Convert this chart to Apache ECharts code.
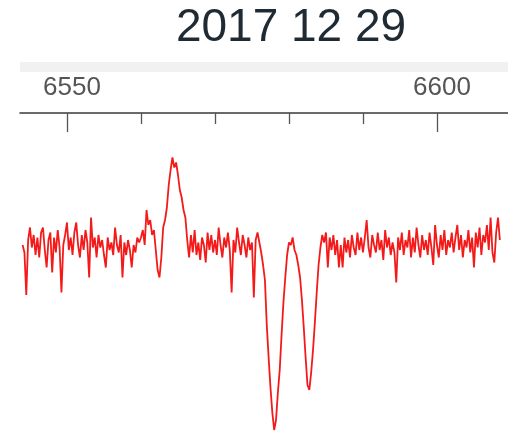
<!DOCTYPE html>
<html>
<head>
<meta charset="utf-8">
<script src="https://cdn.jsdelivr.net/npm/echarts@6/dist/echarts.min.js"></script>
<style>html,body{margin:0;padding:0;background:#fff;}#c{width:508px;height:437px;}</style>
</head>
<body>
<div id="c"></div>
<script>
const titleText = '2017 12 29';
const majorTicks = [6550, 6600];
const minorTicks = [6560, 6570, 6580, 6590];
const wavelength = [
6544.00,6544.25,6544.50,6544.75,6545.00,6545.25,6545.50,6545.75,
6546.00,6546.25,6546.50,6546.75,6547.00,6547.25,6547.50,6547.75,
6548.00,6548.25,6548.50,6548.75,6549.00,6549.25,6549.50,6549.75,
6550.00,6550.25,6550.50,6550.75,6551.00,6551.25,6551.50,6551.75,
6552.00,6552.25,6552.50,6552.75,6553.00,6553.25,6553.50,6553.75,
6554.00,6554.25,6554.50,6554.75,6555.00,6555.25,6555.50,6555.75,
6556.00,6556.25,6556.50,6556.75,6557.00,6557.25,6557.50,6557.75,
6558.00,6558.25,6558.50,6558.75,6559.00,6559.25,6559.50,6559.75,
6560.00,6560.25,6560.50,6560.75,6561.00,6561.25,6561.50,6561.75,
6562.00,6562.25,6562.50,6562.75,6563.00,6563.25,6563.50,6563.75,
6564.00,6564.25,6564.50,6564.75,6565.00,6565.25,6565.50,6565.75,
6566.00,6566.25,6566.50,6566.75,6567.00,6567.25,6567.50,6567.75,
6568.00,6568.25,6568.50,6568.75,6569.00,6569.25,6569.50,6569.75,
6570.00,6570.25,6570.50,6570.75,6571.00,6571.25,6571.50,6571.75,
6572.00,6572.25,6572.50,6572.75,6573.00,6573.25,6573.50,6573.75,
6574.00,6574.25,6574.50,6574.75,6575.00,6575.25,6575.50,6575.75,
6576.00,6576.25,6576.50,6576.75,6577.00,6577.25,6577.50,6577.75,
6578.00,6578.25,6578.50,6578.75,6579.00,6579.25,6579.50,6579.75,
6580.00,6580.25,6580.50,6580.75,6581.00,6581.25,6581.50,6581.75,
6582.00,6582.25,6582.50,6582.75,6583.00,6583.25,6583.50,6583.75,
6584.00,6584.25,6584.50,6584.75,6585.00,6585.25,6585.50,6585.75,
6586.00,6586.25,6586.50,6586.75,6587.00,6587.25,6587.50,6587.75,
6588.00,6588.25,6588.50,6588.75,6589.00,6589.25,6589.50,6589.75,
6590.00,6590.25,6590.50,6590.75,6591.00,6591.25,6591.50,6591.75,
6592.00,6592.25,6592.50,6592.75,6593.00,6593.25,6593.50,6593.75,
6594.00,6594.25,6594.50,6594.75,6595.00,6595.25,6595.50,6595.75,
6596.00,6596.25,6596.50,6596.75,6597.00,6597.25,6597.50,6597.75,
6598.00,6598.25,6598.50,6598.75,6599.00,6599.25,6599.50,6599.75,
6600.00,6600.25,6600.50,6600.75,6601.00,6601.25,6601.50,6601.75,
6602.00,6602.25,6602.50,6602.75,6603.00,6603.25,6603.50,6603.75,
6604.00,6604.25,6604.50,6604.75,6605.00,6605.25,6605.50,6605.75,
6606.00,6606.25,6606.50,6606.75,6607.00,6607.25,6607.50,6607.75,
6608.00,6608.25,6608.50
];
const flux = [
1.00,0.97,0.80,1.02,1.07,0.99,1.04,0.96,
1.03,0.95,1.05,1.07,0.98,0.91,1.02,1.05,
0.89,1.03,0.97,1.06,0.99,0.81,1.00,1.04,
1.09,0.98,1.03,0.96,1.05,1.09,1.00,0.95,
1.04,0.98,1.06,1.01,0.87,1.11,0.99,1.03,
0.95,1.04,0.99,1.02,0.96,0.91,1.03,0.98,
1.01,0.96,1.07,1.00,0.97,1.04,0.87,1.01,
0.96,1.02,0.98,0.91,1.00,0.97,1.03,1.01,
1.03,1.06,1.00,1.14,1.08,1.10,1.04,1.06,
0.98,0.90,0.87,0.95,1.07,1.10,1.15,1.24,
1.30,1.35,1.31,1.33,1.28,1.22,1.19,1.14,
1.11,1.02,0.95,1.04,0.97,1.06,0.96,1.01,
0.94,1.03,1.00,0.93,1.05,0.98,1.04,0.97,
1.02,0.96,1.07,1.00,0.95,1.03,0.99,1.05,
0.98,0.81,1.02,0.97,1.07,1.01,0.96,1.04,
1.00,0.95,1.03,0.98,1.01,0.79,1.02,1.05,
1.01,0.97,0.92,0.86,0.68,0.55,0.43,0.33,
0.26,0.30,0.41,0.50,0.64,0.77,0.87,0.96,
1.01,1.00,1.03,0.98,0.96,0.92,0.87,0.78,
0.67,0.55,0.44,0.42,0.49,0.58,0.69,0.81,
0.92,0.99,1.04,1.01,1.05,0.91,1.03,0.98,
1.04,0.96,1.02,0.91,1.00,0.91,1.03,0.97,
1.02,0.95,1.04,0.99,0.96,1.05,0.98,1.03,
0.97,1.03,1.10,0.99,0.95,1.04,1.00,0.97,
1.05,0.98,1.02,0.94,1.06,0.99,1.03,0.96,
1.01,0.97,0.85,1.03,0.98,1.05,0.96,1.02,
0.99,1.06,0.95,1.03,0.97,1.07,1.00,0.95,
1.04,0.98,1.02,0.96,1.05,0.99,0.92,1.08,
1.00,0.95,1.04,0.98,1.06,0.96,1.02,0.99,
1.05,0.97,1.03,1.08,0.98,1.04,0.95,1.02,
0.99,1.06,0.97,1.03,0.91,1.05,0.99,1.07,
0.96,1.04,1.01,1.08,0.98,1.11,0.97,0.93,
1.05,1.11,1.02
];

const chart = echarts.init(document.getElementById('c'), null, {renderer: 'canvas'});
const X_MIN = 6543.65, X_MAX = 6609.6;
const axisCommon = {
  type: 'value', position: 'top', min: X_MIN, max: X_MAX,
  splitLine: {show: false}
};
chart.setOption({
  animation: false,
  backgroundColor: '#ffffff',
  title: {
    text: titleText, left: 286, top: 0, textAlign: 'center',
    textStyle: {fontFamily: 'Liberation Sans, Arial, sans-serif', fontSize: 46, fontWeight: 'normal', color: '#1f2a33'}
  },
  graphic: [{
    type: 'rect', shape: {x: 20, y: 62, width: 488, height: 10},
    style: {fill: '#f1f1f1'}, z: -1
  }],
  grid: {left: 20, right: 0, top: 113, bottom: 0},
  xAxis: [
    Object.assign({}, axisCommon, {
      axisLine: {show: true, lineStyle: {color: '#3a3a3a', width: 1.6}},
      axisTick: {show: true, inside: true, length: 19, customValues: majorTicks, lineStyle: {color: '#555', width: 1.3}},
      axisLabel: {show: true, customValues: majorTicks, margin: 12, padding: [0, 0, 0, 10],
        formatter: v => String(v),
        fontFamily: 'Liberation Sans, Arial, sans-serif', fontSize: 26, color: '#555'}
    }),
    Object.assign({}, axisCommon, {
      axisLine: {show: false},
      axisTick: {show: true, inside: true, length: 11, customValues: minorTicks, lineStyle: {color: '#555', width: 1.3}},
      axisLabel: {show: false}
    })
  ],
  yAxis: {type: 'value', min: 0.232, max: 1.528, show: false},
  series: [{
    type: 'line', xAxisIndex: 0,
    data: wavelength.map((w, i) => [w, flux[i]]),
    showSymbol: false, symbol: 'none',
    lineStyle: {color: '#f41a1a', width: 1.8}
  }]
});
</script>
</body>
</html>
